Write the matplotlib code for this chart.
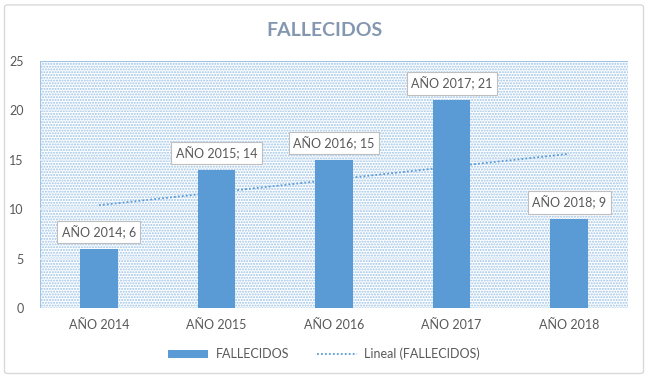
#!/usr/bin/env python
# -*- coding: utf-8 -*-
import numpy as np
import matplotlib
matplotlib.use("Agg")
import matplotlib.pyplot as plt
from matplotlib.patches import Rectangle, FancyBboxPatch

categorias = ["AÑO 2014", "AÑO 2015", "AÑO 2016", "AÑO 2017", "AÑO 2018"]
fallecidos = [6, 14, 15, 21, 9]
yticks = [0, 5, 10, 15, 20, 25]

AZUL = "#5b9bd5"
GRIS = "#595959"

plt.rcParams["font.family"] = ["Lato", "DejaVu Sans"]
plt.rcParams["hatch.color"] = "#9dc3e6"

fig = plt.figure(figsize=(6.48, 3.78), dpi=100)
fig.patches.append(FancyBboxPatch((0.007, 0.012), 0.986, 0.975,
                                  boxstyle="round,pad=0,rounding_size=0.005",
                                  transform=fig.transFigure, fill=False,
                                  edgecolor="#d9d9d9", linewidth=1))
ax = fig.add_axes([0.062, 0.185, 0.907, 0.654])

x = np.arange(len(categorias))
# fondo punteado del area de trazado
ax.add_patch(Rectangle((0, 0), 1, 1, transform=ax.transAxes, facecolor="white",
                       edgecolor="#9dc3e6", hatch="......", linewidth=0.8, zorder=0))
for t in yticks[1:-1]:
  ax.axhline(t, color="#e4eef8", linewidth=1.2, zorder=1)

barras = ax.bar(x, fallecidos, width=0.32, color=AZUL, zorder=3, label="FALLECIDOS")

# linea de tendencia lineal
m, b = np.polyfit(x, fallecidos, 1)
tend, = ax.plot(x, m * x + b, linestyle=(0, (1, 1.2)), color=AZUL, linewidth=1.3,
                zorder=4, label="Lineal (FALLECIDOS)")

for xi, v, c in zip(x, fallecidos, categorias):
  ax.annotate(f"{c}; {v}", (xi, v), xytext=(0, 12), textcoords="offset points",
              ha="center", va="center", fontsize=9, color=GRIS, zorder=5,
              bbox=dict(boxstyle="square,pad=0.35", facecolor="white",
                        edgecolor="#bfbfbf", linewidth=0.8))

ax.set_xlim(-0.5, len(categorias) - 0.5)
ax.set_ylim(0, 25)
ax.set_yticks(yticks)
ax.set_xticks(x)
ax.set_xticklabels(categorias)
ax.tick_params(length=0, labelsize=9, colors=GRIS, pad=8)
ax.tick_params(axis="y", pad=12)
for s in ax.spines.values():
  s.set_visible(False)
ax.set_facecolor("none")

fig.text(0.5, 0.918, "FALLECIDOS", ha="center", va="center", fontsize=14,
         fontweight="bold", color="#8497b0")

fig.legend([barras, tend], ["FALLECIDOS", "Lineal (FALLECIDOS)"],
           loc="center", bbox_to_anchor=(0.5, 0.063), ncol=2, frameon=False,
           fontsize=9, labelcolor=GRIS, handlelength=3.2, handleheight=0.6,
           columnspacing=2.2, handletextpad=0.6)

fig.savefig("out.png", dpi=100)
